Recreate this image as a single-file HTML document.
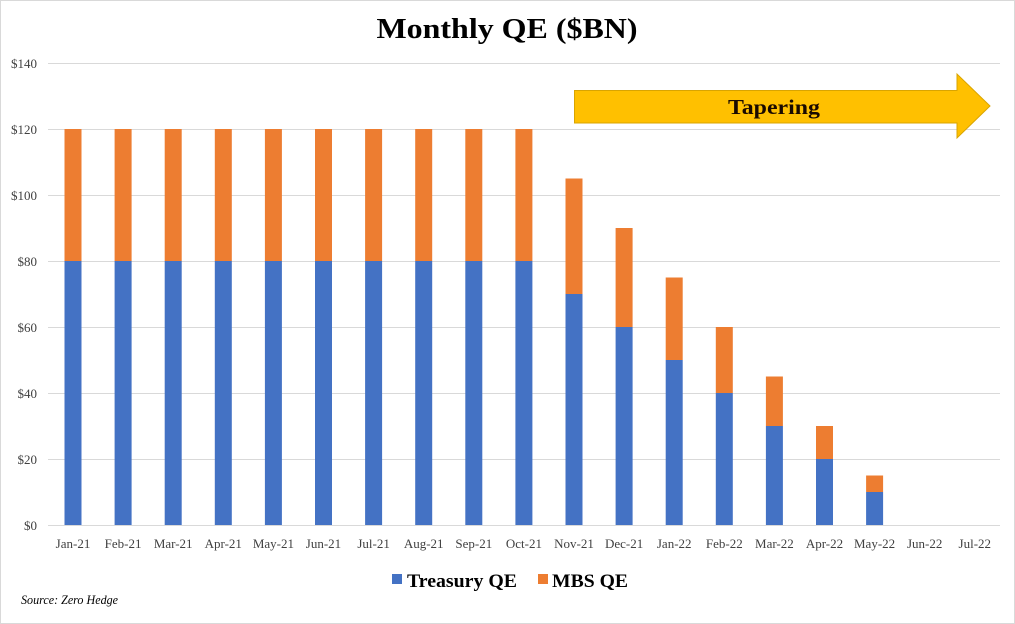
<!DOCTYPE html>
<html><head><meta charset="utf-8"><style>
html,body{margin:0;padding:0;background:#fff}
svg{display:block}
</style></head><body>
<svg width="1015" height="624" viewBox="0 0 1015 624" xmlns="http://www.w3.org/2000/svg" font-family="'Liberation Serif', serif">
<rect x="0.5" y="0.5" width="1014" height="623" fill="#fff" stroke="#d9d9d9"/>
<text x="507" y="38" text-anchor="middle" font-size="29" font-weight="bold" fill="#000" textLength="261" lengthAdjust="spacingAndGlyphs">Monthly QE ($BN)</text>
<g stroke="#d9d9d9" stroke-width="1">
<line x1="48" y1="63.5" x2="1000" y2="63.5"/>
<line x1="48" y1="129.5" x2="1000" y2="129.5"/>
<line x1="48" y1="195.5" x2="1000" y2="195.5"/>
<line x1="48" y1="261.5" x2="1000" y2="261.5"/>
<line x1="48" y1="327.5" x2="1000" y2="327.5"/>
<line x1="48" y1="393.5" x2="1000" y2="393.5"/>
<line x1="48" y1="459.5" x2="1000" y2="459.5"/>
<line x1="48" y1="525.5" x2="1000" y2="525.5"/>
</g>
<g font-size="13" fill="#404040" text-anchor="end">
<text x="37" y="68">$140</text>
<text x="37" y="134">$120</text>
<text x="37" y="200">$100</text>
<text x="37" y="266">$80</text>
<text x="37" y="332">$60</text>
<text x="37" y="398">$40</text>
<text x="37" y="464">$20</text>
<text x="37" y="530">$0</text>
</g>
<g fill="#4472c4">
<rect x="64.5" y="261" width="17" height="264"/>
<rect x="114.6" y="261" width="17" height="264"/>
<rect x="164.7" y="261" width="17" height="264"/>
<rect x="214.8" y="261" width="17" height="264"/>
<rect x="264.9" y="261" width="17" height="264"/>
<rect x="315" y="261" width="17" height="264"/>
<rect x="365.1" y="261" width="17" height="264"/>
<rect x="415.2" y="261" width="17" height="264"/>
<rect x="465.3" y="261" width="17" height="264"/>
<rect x="515.4" y="261" width="17" height="264"/>
<rect x="565.5" y="294" width="17" height="231"/>
<rect x="615.6" y="327" width="17" height="198"/>
<rect x="665.7" y="360" width="17" height="165"/>
<rect x="715.8" y="393" width="17" height="132"/>
<rect x="765.9" y="426" width="17" height="99"/>
<rect x="816" y="459" width="17" height="66"/>
<rect x="866.1" y="492" width="17" height="33"/>
</g>
<g fill="#ed7d31">
<rect x="64.5" y="129" width="17" height="132"/>
<rect x="114.6" y="129" width="17" height="132"/>
<rect x="164.7" y="129" width="17" height="132"/>
<rect x="214.8" y="129" width="17" height="132"/>
<rect x="264.9" y="129" width="17" height="132"/>
<rect x="315" y="129" width="17" height="132"/>
<rect x="365.1" y="129" width="17" height="132"/>
<rect x="415.2" y="129" width="17" height="132"/>
<rect x="465.3" y="129" width="17" height="132"/>
<rect x="515.4" y="129" width="17" height="132"/>
<rect x="565.5" y="178.5" width="17" height="115.5"/>
<rect x="615.6" y="228" width="17" height="99"/>
<rect x="665.7" y="277.5" width="17" height="82.5"/>
<rect x="715.8" y="327" width="17" height="66"/>
<rect x="765.9" y="376.5" width="17" height="49.5"/>
<rect x="816" y="426" width="17" height="33"/>
<rect x="866.1" y="475.5" width="17" height="16.5"/>
</g>
<g fill="#404040" font-size="13" text-anchor="middle">
<text x="73" y="548">Jan-21</text>
<text x="123.1" y="548">Feb-21</text>
<text x="173.2" y="548">Mar-21</text>
<text x="223.3" y="548">Apr-21</text>
<text x="273.4" y="548">May-21</text>
<text x="323.5" y="548">Jun-21</text>
<text x="373.6" y="548">Jul-21</text>
<text x="423.7" y="548">Aug-21</text>
<text x="473.8" y="548">Sep-21</text>
<text x="523.9" y="548">Oct-21</text>
<text x="574" y="548">Nov-21</text>
<text x="624.1" y="548">Dec-21</text>
<text x="674.2" y="548">Jan-22</text>
<text x="724.3" y="548">Feb-22</text>
<text x="774.4" y="548">Mar-22</text>
<text x="824.5" y="548">Apr-22</text>
<text x="874.6" y="548">May-22</text>
<text x="924.7" y="548">Jun-22</text>
<text x="974.8" y="548">Jul-22</text>
</g>
<polygon points="574.5,90.5 957,90.5 957,74 990,106 957,138 957,123 574.5,123" fill="#ffc000" stroke="#d9a400" stroke-width="1"/>
<text x="774" y="114" text-anchor="middle" font-size="21" font-weight="bold" fill="#1a0a00" textLength="92" lengthAdjust="spacingAndGlyphs">Tapering</text>
<rect x="392" y="574" width="10" height="10" fill="#4472c4"/>
<text x="407" y="587" font-size="19" font-weight="bold" fill="#000" textLength="110" lengthAdjust="spacingAndGlyphs">Treasury QE</text>
<rect x="538" y="574" width="10" height="10" fill="#ed7d31"/>
<text x="552" y="587" font-size="19" font-weight="bold" fill="#000" textLength="76" lengthAdjust="spacingAndGlyphs">MBS QE</text>
<text x="21" y="604" font-size="13" font-style="italic" fill="#000" textLength="97" lengthAdjust="spacingAndGlyphs">Source: Zero Hedge</text>
</svg>
</body></html>
